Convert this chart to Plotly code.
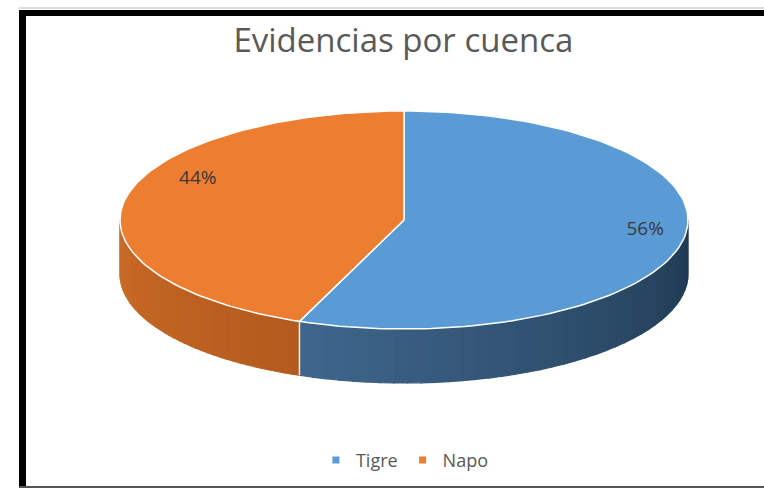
import numpy as np
import plotly.graph_objects as go

# data
labels = ["Tigre", "Napo"]
values = [56, 44]
top_colors = ["#5B9BD5", "#ED7D31"]
# side shading: (colour at slice start angle, colour at slice end angle)
side_colors = [("#1E3850", "#3F668C"), ("#B35A1E", "#CB6C27")]
title_text = "Evidencias por cuenca"

# geometry of the tilted pie, in pixel units
cx, cy = 404, 220
rx, ry = 284, 109
depth = 54


def pt(theta_deg, drop=0.0):
    t = np.radians(theta_deg)
    return cx + rx * np.sin(t), cy - ry * np.cos(t) + drop


def mix(c1, c2, f):
    a = [int(c1[i:i + 2], 16) for i in (1, 3, 5)]
    b = [int(c2[i:i + 2], 16) for i in (1, 3, 5)]
    return "rgb(%d,%d,%d)" % tuple(round(a[k] + (b[k] - a[k]) * f) for k in range(3))


total = sum(values)
bounds = np.cumsum([0] + values) / total * 360.0

fig = go.Figure()

# side walls (only the front half, 90..270 deg, is visible)
for i, lab in enumerate(labels):
    a0, a1 = max(bounds[i], 90), min(bounds[i + 1], 270)
    if a1 <= a0:
        continue
    n = 40
    edges = np.linspace(a0, a1, n + 1)
    for k in range(n):
        th = np.linspace(edges[k], edges[k + 1], 4)
        xs_t, ys_t = pt(th)
        xs_b, ys_b = pt(th[::-1], depth)
        col = mix(side_colors[i][0], side_colors[i][1], (k + 0.5) / n)
        fig.add_trace(go.Scatter(
            x=np.concatenate([xs_t, xs_b, xs_t[:1]]),
            y=np.concatenate([ys_t, ys_b, ys_t[:1]]),
            mode="lines", fill="toself", fillcolor=col,
            line=dict(width=1.2, color=col),
            hoverinfo="skip", showlegend=False,
        ))

# vertical seams between slices on the front wall
for b in bounds[1:-1]:
    if 90 < b < 270:
        x0, y0 = pt(b)
        x1, y1 = pt(b, depth)
        fig.add_trace(go.Scatter(x=[x0, x1], y=[y0, y1], mode="lines",
                                 line=dict(color="rgba(255,255,255,0.9)", width=1.5),
                                 hoverinfo="skip", showlegend=False))

# top faces
for i, lab in enumerate(labels):
    th = np.linspace(bounds[i], bounds[i + 1], 120)
    xs, ys = pt(th)
    fig.add_trace(go.Scatter(
        x=np.concatenate([[cx], xs, [cx]]),
        y=np.concatenate([[cy], ys, [cy]]),
        mode="lines", fill="toself", fillcolor=top_colors[i],
        line=dict(color="white", width=1.5),
        name=lab, hoverinfo="skip", showlegend=False,
    ))

# percentage labels
nudge = [(18, -6), (17, -24)]
for i, lab in enumerate(labels):
    mid = (bounds[i] + bounds[i + 1]) / 2
    lx, ly = pt(mid)
    lx = cx + 0.8 * (lx - cx) + nudge[i][0]
    ly = cy + 0.8 * (ly - cy) + nudge[i][1]
    fig.add_trace(go.Scatter(
        x=[lx], y=[ly], mode="text",
        text=["%d%%" % round(values[i] / total * 100)],
        textfont=dict(family="Open Sans", size=19, color="#3A3A3A"),
        hoverinfo="skip", showlegend=False,
    ))

# legend entries
for i, lab in enumerate(labels):
    fig.add_trace(go.Scatter(
        x=[None], y=[None], mode="markers", name=lab,
        marker=dict(symbol="square", size=7, color=top_colors[i]),
    ))

# frame around the chart
frame = [
    dict(type="line", x0=19, x1=764, y0=8, y1=8, line=dict(color="#BBBBBB", width=1)),
    dict(type="rect", x0=19, x1=764, y0=10, y1=16, fillcolor="black", line=dict(width=0)),
    dict(type="rect", x0=19, x1=26, y0=10, y1=488, fillcolor="black", line=dict(width=0)),
    dict(type="line", x0=19, x1=764, y0=487, y1=487, line=dict(color="#555555", width=2)),
]
for s in frame:
    s.update(xref="x", yref="y", layer="above")
    fig.add_shape(**s)

fig.update_layout(
    width=764, height=488,
    margin=dict(l=0, r=0, t=0, b=0),
    paper_bgcolor="white", plot_bgcolor="white",
    title=dict(text=title_text, x=0.528, xanchor="center", y=0.918, yanchor="middle",
               font=dict(family="Open Sans", size=33, color="#595959")),
    xaxis=dict(range=[0, 764], visible=False, fixedrange=True),
    yaxis=dict(range=[488, 0], visible=False, fixedrange=True),
    legend=dict(orientation="h", x=0.53, xanchor="center", y=0.057, yanchor="middle",
                font=dict(family="Open Sans", size=18, color="#595959"),
                itemwidth=30, bgcolor="rgba(0,0,0,0)"),
    showlegend=True,
)

fig.write_html("out.html", config={"displayModeBar": False},
               post_script="document.body.style.margin='0';")
